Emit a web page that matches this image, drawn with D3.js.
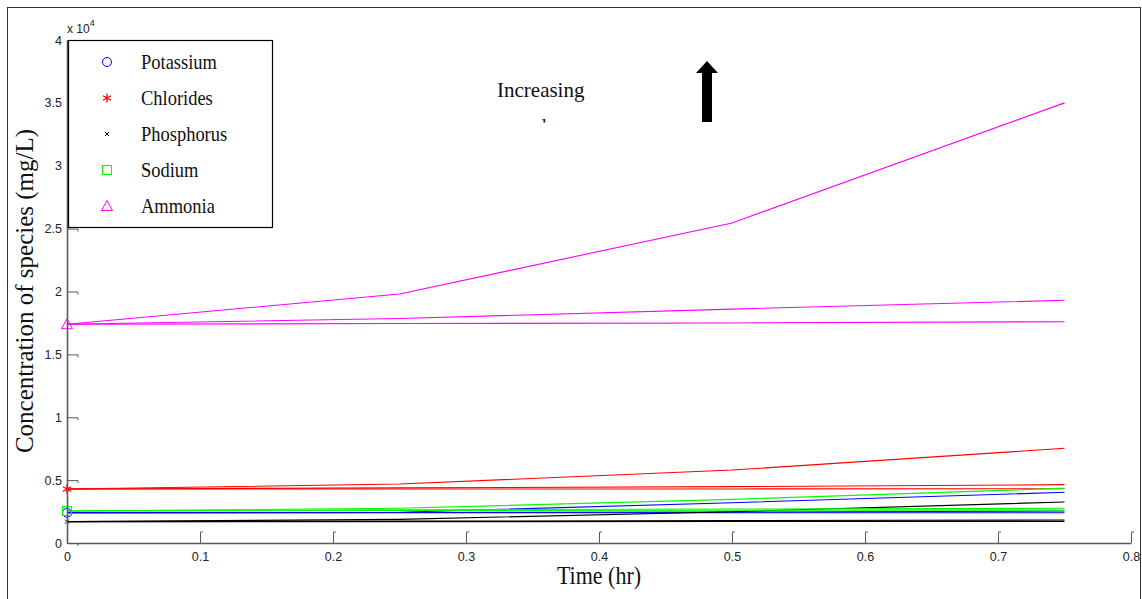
<!DOCTYPE html>
<html>
<head>
<meta charset="utf-8">
<script src="https://cdn.jsdelivr.net/npm/d3@7.8.5/dist/d3.min.js"></script>
<style>
  html, body { margin: 0; padding: 0; background: #fff; }
  svg { display: block; }
</style>
</head>
<body>
<div id="chart"></div>
<script>
// Time points (hr)
const TIMES = [0, 0.25, 0.5, 0.75];

// Concentrations (mg/L), three runs per species
const POTASSIUM = [
  [2400, 2450, 3200, 4030],
  [2400, 2420, 2460, 2540],
  [2400, 2400, 2405, 2410],
];
const CHLORIDES = [
  [4290, 4690, 5800, 7530],
  [4290, 4380, 4480, 4640],
  [4290, 4295, 4300, 4320],
];
const PHOSPHORUS = [
  [1700, 1880, 2490, 3260],
  [1700, 1740, 1780, 1830],
  [1700, 1700, 1710, 1720],
];
const SODIUM = [
  [2550, 2760, 3470, 4350],
  [2550, 2650, 2700, 2760],
  [2550, 2580, 2600, 2620],
];
const AMMONIA = [
  [17400, 19800, 25450, 35000],
  [17400, 17850, 18600, 19300],
  [17400, 17450, 17500, 17600],
];

const X_TICKS = [0, 0.1, 0.2, 0.3, 0.4, 0.5, 0.6, 0.7, 0.8];
const Y_TICKS = [0, 5000, 10000, 15000, 20000, 25000, 30000, 35000, 40000];

const SPECIES = [
  { name: "Potassium", color: "#0000ff", marker: "circle", runs: POTASSIUM },
  { name: "Chlorides", color: "#ff0000", marker: "star", runs: CHLORIDES },
  { name: "Phosphorus", color: "#000000", marker: "cross", runs: PHOSPHORUS },
  { name: "Sodium", color: "#00ff00", marker: "square", runs: SODIUM },
  { name: "Ammonia", color: "#ff00ff", marker: "triangle", runs: AMMONIA },
];

const W = 1142, H = 599;
const SERIF = "'Liberation Serif', 'Times New Roman', serif";
const SANS = "'Liberation Sans', Arial, sans-serif";

const x = d3.scaleLinear().domain([0, 0.8]).range([67, 1131]);
const y = d3.scaleLinear().domain([0, 40000]).range([543, 40]);

const svg = d3.select("#chart").append("svg")
  .attr("width", W).attr("height", H);

// outer figure frame
svg.append("rect")
  .attr("x", 7.5).attr("y", 7.5)
  .attr("width", 1133).attr("height", 620)
  .attr("fill", "none").attr("stroke", "#333").attr("stroke-width", 1);

// ── marker shapes ─────────────────────────────────────────────────────────
function drawMarker(g, type, color, cx, cy) {
  const m = g.append("g").attr("transform", `translate(${cx},${cy})`)
    .attr("fill", "none").attr("stroke", color).attr("stroke-width", 1);
  if (type === "circle") {
    m.append("circle").attr("r", 4.5);
  } else if (type === "square") {
    m.append("rect").attr("x", -4.5).attr("y", -4.5).attr("width", 9).attr("height", 9);
  } else if (type === "triangle") {
    m.append("path").attr("d", "M0,-5.5L5.5,4.5L-5.5,4.5Z");
  } else if (type === "star") {
    m.attr("stroke-width", 1.3);
    m.append("path").attr("d", "M0,-4.5V4.5M-4,-2.3L4,2.3M-4,2.3L4,-2.3");
  } else if (type === "cross") {
    m.append("path").attr("d", "M-2,-2L2,2M-2,2L2,-2");
  }
}

// ── lines ─────────────────────────────────────────────────────────────────
const line = d3.line().x((d, i) => x(TIMES[i])).y(d => y(d));
const plot = svg.append("g");

SPECIES.forEach(s => {
  s.runs.forEach(run => {
    plot.append("path")
      .attr("d", line(run))
      .attr("fill", "none")
      .attr("stroke", s.color)
      .attr("stroke-width", 1.1);
  });
});
SPECIES.forEach(s => {
  drawMarker(plot, s.marker, s.color, x(TIMES[0]), y(s.runs[0][0]));
});

// ── axes ──────────────────────────────────────────────────────────────────
const AXIS_COL = "#5a5a5a";

const xAxis = svg.append("g")
  .attr("transform", `translate(0,${y(0)})`)
  .call(d3.axisBottom(x).tickValues(X_TICKS).tickSizeInner(-11).tickSizeOuter(0)
    .tickPadding(9).tickFormat(d3.format("")));
xAxis.select(".domain").attr("stroke", AXIS_COL).attr("stroke-width", 1.6);
xAxis.selectAll(".tick line").attr("stroke", AXIS_COL);
xAxis.selectAll(".tick").filter(d => d > 0)
  .append("path").attr("d", "M0,-11h2.5").attr("stroke", AXIS_COL).attr("fill", "none");
xAxis.selectAll(".tick").filter(d => d === 0).select("line").remove();
xAxis.selectAll(".tick text")
  .attr("fill", "#222").style("font-family", SANS).style("font-size", "12.5px");

const yAxis = svg.append("g")
  .attr("transform", `translate(${x(0)},0)`)
  .call(d3.axisLeft(y).tickValues(Y_TICKS).tickSizeInner(-11).tickSizeOuter(0)
    .tickPadding(5).tickFormat(d => d3.format("")(d / 10000)));
yAxis.select(".domain").attr("stroke", AXIS_COL).attr("stroke-width", 1.6);
yAxis.selectAll(".tick line").attr("stroke", AXIS_COL);
yAxis.selectAll(".tick")
  .append("path").attr("d", "M11,0v2.5").attr("stroke", AXIS_COL).attr("fill", "none");
yAxis.selectAll(".tick text")
  .attr("fill", "#222").style("font-family", SANS).style("font-size", "12.5px");

// exponent
const expo = svg.append("text")
  .attr("x", 67).attr("y", 33)
  .style("font-family", SANS).style("font-size", "12px").attr("fill", "#222");
expo.append("tspan").text("x 10");
expo.append("tspan").attr("dy", -7).style("font-size", "9px").text("4");

// axis titles
svg.append("text")
  .attr("transform", `translate(${(x(0) + x(0.8)) / 2},584) scale(0.88,1)`)
  .attr("text-anchor", "middle")
  .style("font-family", SERIF).style("font-size", "25px").attr("fill", "#111")
  .text("Time (hr)");

svg.append("text")
  .attr("transform", "translate(33,291) rotate(-90)")
  .attr("text-anchor", "middle")
  .style("font-family", SERIF).style("font-size", "25px").attr("fill", "#111")
  .text("Concentration of species (mg/L)");

// ── legend ────────────────────────────────────────────────────────────────
const legend = svg.append("g");
legend.append("rect")
  .attr("x", 68.5).attr("y", 40.5).attr("width", 204).attr("height", 187)
  .attr("fill", "#fff").attr("stroke", "#000").attr("stroke-width", 1.2);

SPECIES.forEach((s, i) => {
  const cy = 62 + i * 36;
  drawMarker(legend, s.marker, s.color, 107, cy);
  legend.append("text")
    .attr("transform", `translate(141,${cy + 7}) scale(0.88,1)`)
    .style("font-family", SERIF).style("font-size", "21px").attr("fill", "#111")
    .text(s.name);
});

// ── annotation ────────────────────────────────────────────────────────────
svg.append("clipPath").attr("id", "noteClip")
  .append("rect").attr("x", 480).attr("y", 60).attr("width", 200).attr("height", 62.5);
const note = svg.append("g").attr("clip-path", "url(#noteClip)");
note.append("text")
  .attr("x", 497).attr("y", 97)
  .style("font-family", SERIF).style("font-size", "21px").attr("fill", "#111")
  .text("Increasing");
note.append("text")
  .attr("x", 500).attr("y", 132.5)
  .style("font-family", SERIF).style("font-size", "21px").attr("fill", "#111")
  .text("membrane area");

svg.append("path")
  .attr("d", "M702,122V73H696L707,61L718,73H712V122Z")
  .attr("fill", "#000");
</script>
</body>
</html>
